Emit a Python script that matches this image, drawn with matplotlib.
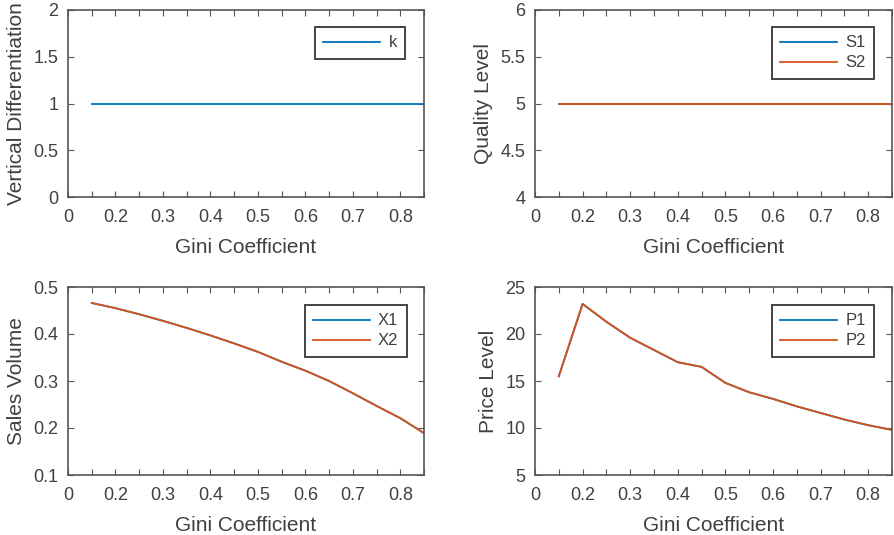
import numpy as np
import matplotlib
matplotlib.use("Agg")
import matplotlib.pyplot as plt

plt.rcParams['font.family'] = ['Liberation Sans', 'DejaVu Sans']

gini = [0.15, 0.2, 0.25, 0.3, 0.35, 0.4, 0.45, 0.5, 0.55, 0.6, 0.65, 0.7, 0.75, 0.8, 0.85]

k = [1, 1, 1, 1, 1, 1, 1, 1, 1, 1, 1, 1, 1, 1, 1]
s1 = [5, 5, 5, 5, 5, 5, 5, 5, 5, 5, 5, 5, 5, 5, 5]
s2 = [5, 5, 5, 5, 5, 5, 5, 5, 5, 5, 5, 5, 5, 5, 5]
x1 = [0.466, 0.455, 0.442, 0.428, 0.413, 0.397, 0.380, 0.362, 0.341, 0.322,
      0.300, 0.274, 0.247, 0.221, 0.189]
x2 = x1
p1 = [15.5, 23.2, 21.3, 19.6, 18.3, 17.0, 16.5, 14.8, 13.8, 13.1, 12.3, 11.6,
      10.9, 10.3, 9.8]
p2 = p1

xtick_pos = [0.1, 0.2, 0.3, 0.4, 0.5, 0.6, 0.7, 0.8]
xtick_lab = ['0', '0.2', '0.3', '0.4', '0.5', '0.6', '0.7', '0.8']
minor_pos = [0.15, 0.25, 0.35, 0.45, 0.55, 0.65, 0.75, 0.85]

blue = '#0072BD'
orange = '#D95319'
txt = '#404040'
edge = '#555555'

fig = plt.figure(figsize=(8.94, 5.35), dpi=100)
W, H = 894, 535


def make_ax(l, r, t, b):
    return fig.add_axes([l / W, (H - b) / H, (r - l) / W, (b - t) / H])


axes = [make_ax(68, 424, 10, 197), make_ax(535, 892, 10, 197),
        make_ax(68, 424, 287, 475), make_ax(535, 892, 287, 475)]

specs = [
    ([(k, blue, 'k')], 'Vertical Differentiation', (0, 2),
     [0, 0.5, 1, 1.5, 2], ['0', '0.5', '1', '1.5', '2'], (0.947, 0.909)),
    ([(s1, blue, 'S1'), (s2, orange, 'S2')], 'Quality Level', (4, 6),
     [4, 4.5, 5, 5.5, 6], ['4', '4.5', '5', '5.5', '6'], (0.95, 0.909)),
    ([(x1, blue, 'X1'), (x2, orange, 'X2')], 'Sales Volume', (0.1, 0.5),
     [0.1, 0.2, 0.3, 0.4, 0.5], ['0.1', '0.2', '0.3', '0.4', '0.5'], (0.952, 0.904)),
    ([(p1, blue, 'P1'), (p2, orange, 'P2')], 'Price Level', (5, 25),
     [5, 10, 15, 20, 25], ['5', '10', '15', '20', '25'], (0.95, 0.904)),
]

for ax, (series, ylab, ylim, yt, ytl, anchor) in zip(axes, specs):
    for vals, col, name in series:
        ax.plot(gini, vals, color=col, lw=1.3, label=name)
    ax.set_xlim(0.1, 0.85)
    ax.set_ylim(*ylim)
    ax.set_xticks(xtick_pos)
    ax.set_xticklabels(xtick_lab)
    ax.set_xticks(minor_pos, minor=True)
    ax.set_yticks(yt)
    ax.set_yticklabels(ytl)
    ax.tick_params(which='both', direction='in', top=True, right=True,
                   length=4, width=0.8, color=edge, labelsize=13,
                   labelcolor=txt)
    ax.tick_params(axis='x', pad=9)
    ax.tick_params(axis='y', pad=7)
    for sp in ax.spines.values():
        sp.set_color(edge)
        sp.set_linewidth(1.2)
    ax.set_xlabel('Gini Coefficient', fontsize=15, color=txt, labelpad=8)
    ax.set_ylabel(ylab, fontsize=15, color=txt, labelpad=5)
    leg = ax.legend(loc='upper right', bbox_to_anchor=anchor, fontsize=12,
                    handlelength=3.4, handletextpad=0.5, borderaxespad=0,
                    borderpad=0.5, labelspacing=0.3, fancybox=False,
                    framealpha=1, edgecolor='#444444')
    leg.get_frame().set_linewidth(1.4)
    for t in leg.get_texts():
        t.set_color(txt)

fig.savefig('out.png', dpi=100)
